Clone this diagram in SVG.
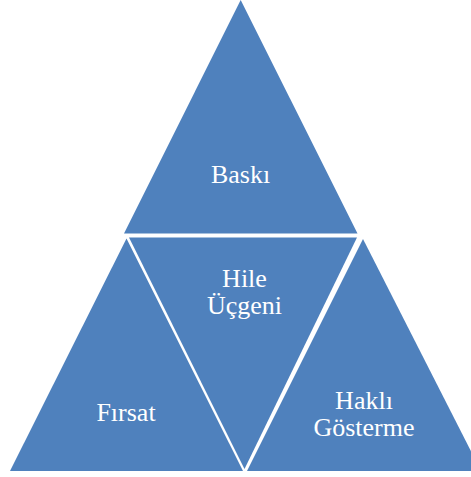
<svg xmlns="http://www.w3.org/2000/svg" width="471" height="477" viewBox="0 0 471 477">
<style>
.tri{fill:#4F81BD}
.lbl{font-family:"Liberation Serif","Times New Roman",serif;font-size:26px;fill:#FFFFFF;text-anchor:middle}
</style>
<rect width="471" height="477" fill="#FFFFFF"/>
<g id="top">
<polygon class="tri" points="240.7,0 357.5,233.5 124,233.5"/>
<text class="lbl" x="240.5" y="183">Baskı</text>
</g>
<g id="left">
<polygon class="tri" points="126.5,238.5 243,471 10,471"/>
<text class="lbl" x="126" y="421">Fırsat</text>
</g>
<g id="center">
<polygon class="tri" points="129,237.5 357,237.5 244.5,469"/>
<text class="lbl" x="244.5" y="287">Hile</text>
<text class="lbl" x="244.5" y="314">Üçgeni</text>
</g>
<g id="right">
<polygon class="tri" points="363,239 481,471 247,471"/>
<text class="lbl" x="364" y="409">Haklı</text>
<text class="lbl" x="364" y="436">Gösterme</text>
</g>
<g id="connectors"/>
</svg>
